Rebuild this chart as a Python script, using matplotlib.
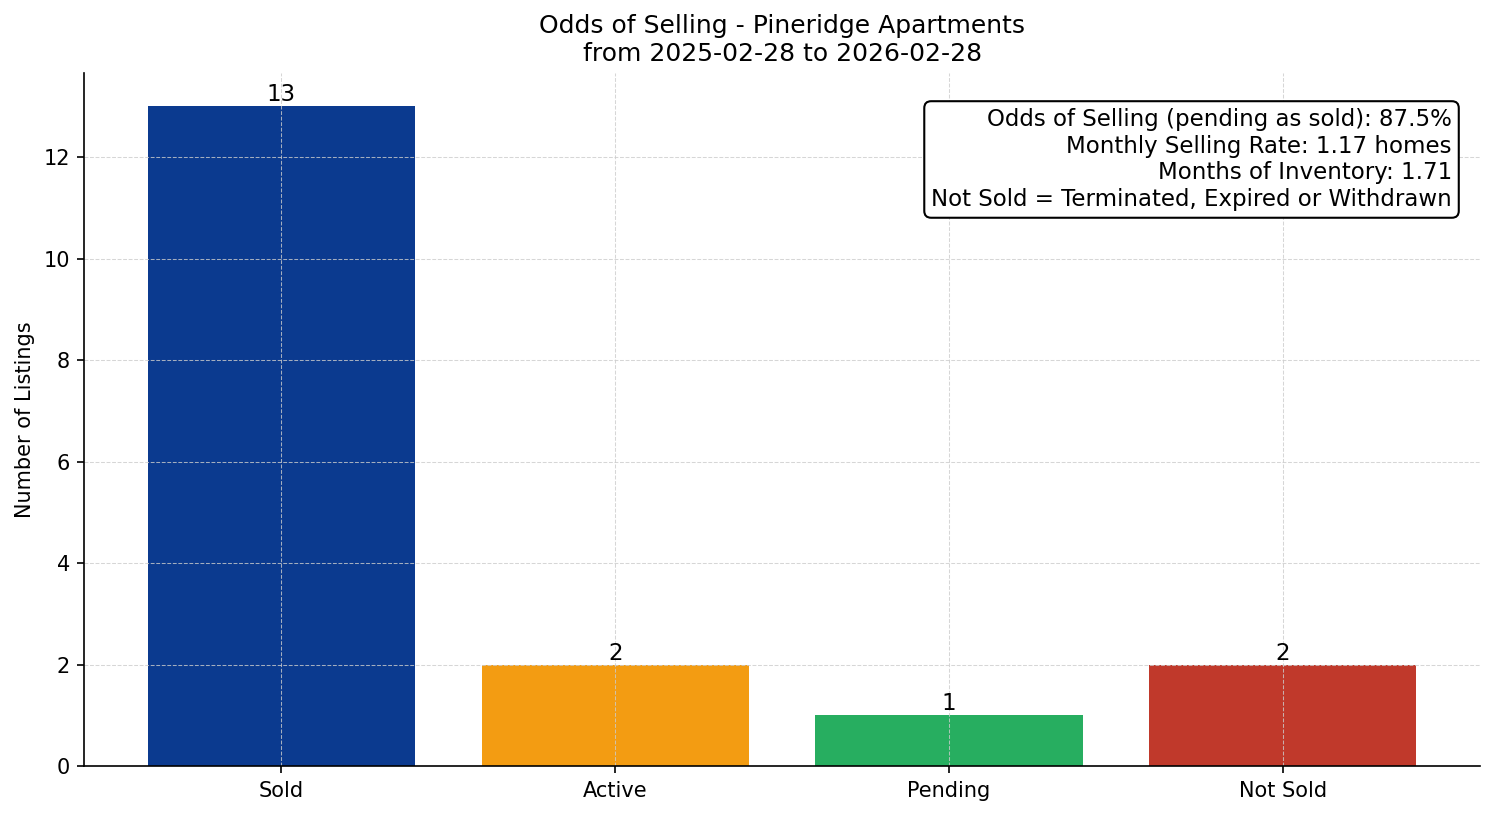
import matplotlib
matplotlib.use("Agg")
import matplotlib.pyplot as plt

categories = ["Sold", "Active", "Pending", "Not Sold"]
counts = [13, 2, 1, 2]
colors = ["#0b3a8f", "#f39c12", "#27ae60", "#c0392b"]
title = "Odds of Selling - Pineridge Apartments\nfrom 2025-02-28 to 2026-02-28"
info_lines = [
    "Odds of Selling (pending as sold): 87.5%",
    "Monthly Selling Rate: 1.17 homes",
    "Months of Inventory: 1.71",
    "Not Sold = Terminated, Expired or Withdrawn",
]

fig, ax = plt.subplots(figsize=(9.96, 5.44), dpi=150)
bars = ax.bar(categories, counts, color=colors, width=0.8)
for b, v in zip(bars, counts):
    ax.text(b.get_x() + b.get_width() / 2, v, str(v), ha="center", va="bottom", fontsize=11)

ax.set_title(title, fontsize=12)
ax.set_ylabel("Number of Listings", fontsize=10)
ax.grid(True, linestyle="--", linewidth=0.5, color="#cccccc", alpha=0.8)
ax.spines["top"].set_visible(False)
ax.spines["right"].set_visible(False)
ax.text(0.98, 0.95, "\n".join(info_lines), transform=ax.transAxes, ha="right", va="top",
        fontsize=11, bbox=dict(boxstyle="round,pad=0.3", facecolor="white", edgecolor="black"))

fig.subplots_adjust(left=0.0565, right=0.9905, top=0.91, bottom=0.061)
fig.savefig("out.png", dpi=150)
